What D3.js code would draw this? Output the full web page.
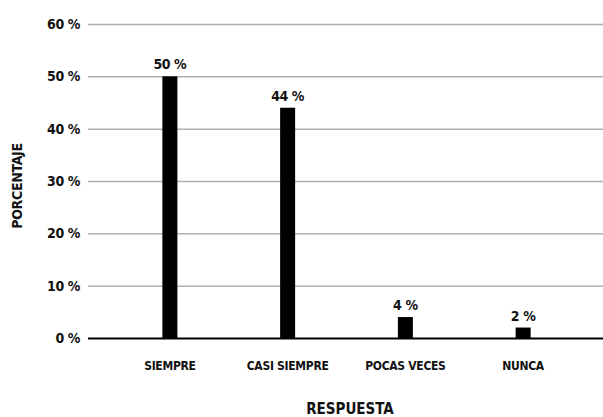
<!DOCTYPE html>
<html>
<head>
<meta charset="utf-8">
<script src="https://cdn.jsdelivr.net/npm/d3@7"></script>
<style>
  html, body { margin: 0; padding: 0; background: #fff; }
  svg { display: block; }
  text { font-family: "DejaVu Sans Condensed", "Liberation Sans Narrow", sans-serif; font-weight: bold; fill: #111; }
</style>
</head>
<body>
<svg id="chart" width="603" height="417"></svg>
<script>
// Survey responses and their share of answers
const categories = ["SIEMPRE", "CASI SIEMPRE", "POCAS VECES", "NUNCA"];
const values = [50, 44, 4, 2];
const yTicks = [0, 10, 20, 30, 40, 50, 60];

const svg = d3.select("#chart");
const plotLeft = 88, plotRight = 603;
const y = d3.scaleLinear().domain([0, 60]).range([338, 24]);
const x = d3.scaleBand().domain(categories).range([111, 582]).padding(0);
const barW = 15;
const fontStack = "'DejaVu Sans Condensed', 'Liberation Sans Narrow', sans-serif";

// Horizontal gridlines with percent labels
const yAxis = d3.axisLeft(y)
  .tickValues(yTicks)
  .tickSize(-(plotRight - plotLeft))
  .tickPadding(8)
  .tickFormat(d => d + " %");

const gy = svg.append("g")
  .attr("transform", `translate(${plotLeft},0)`)
  .call(yAxis);
gy.select(".domain").remove();
gy.selectAll(".tick line")
  .attr("stroke", d => d === 0 ? "#000" : "#b0b0b0")
  .attr("stroke-width", d => d === 0 ? 2 : 1.5);
gy.selectAll(".tick text")
  .attr("font-size", 14)
  .attr("x", -8)
  .attr("letter-spacing", -0.4)
  .style("font-family", fontStack)
  .style("font-weight", "bold")
  .attr("fill", "#111");

// Bars
svg.append("g").selectAll("rect")
  .data(values)
  .join("rect")
  .attr("x", (d, i) => x(categories[i]) + x.bandwidth() / 2 - barW / 2)
  .attr("y", d => y(d))
  .attr("width", barW)
  .attr("height", d => y(0) - y(d))
  .attr("fill", "#000");

// Value labels above the bars
svg.append("g").selectAll("text")
  .data(values)
  .join("text")
  .attr("x", (d, i) => x(categories[i]) + x.bandwidth() / 2)
  .attr("y", d => y(d) - 7)
  .attr("text-anchor", "middle")
  .attr("font-size", 14)
  .attr("letter-spacing", -0.4)
  .text(d => d + " %");

// Category labels
const xAxis = d3.axisBottom(x).tickSize(0).tickPadding(0);
const gx = svg.append("g")
  .attr("transform", "translate(0,370)")
  .call(xAxis);
gx.select(".domain").remove();
gx.selectAll(".tick text")
  .attr("y", 0)
  .attr("dy", 0)
  .attr("font-size", 12)
  .attr("letter-spacing", -0.3)
  .style("font-family", fontStack)
  .style("font-weight", "bold")
  .attr("fill", "#111");

// Axis titles
svg.append("text")
  .attr("x", 350)
  .attr("y", 414)
  .attr("text-anchor", "middle")
  .attr("font-size", 15)
  .text("RESPUESTA");

svg.append("text")
  .attr("transform", "translate(22,186) rotate(-90)")
  .attr("text-anchor", "middle")
  .attr("font-size", 14)
  .attr("letter-spacing", -0.3)
  .text("PORCENTAJE");
</script>
</body>
</html>
